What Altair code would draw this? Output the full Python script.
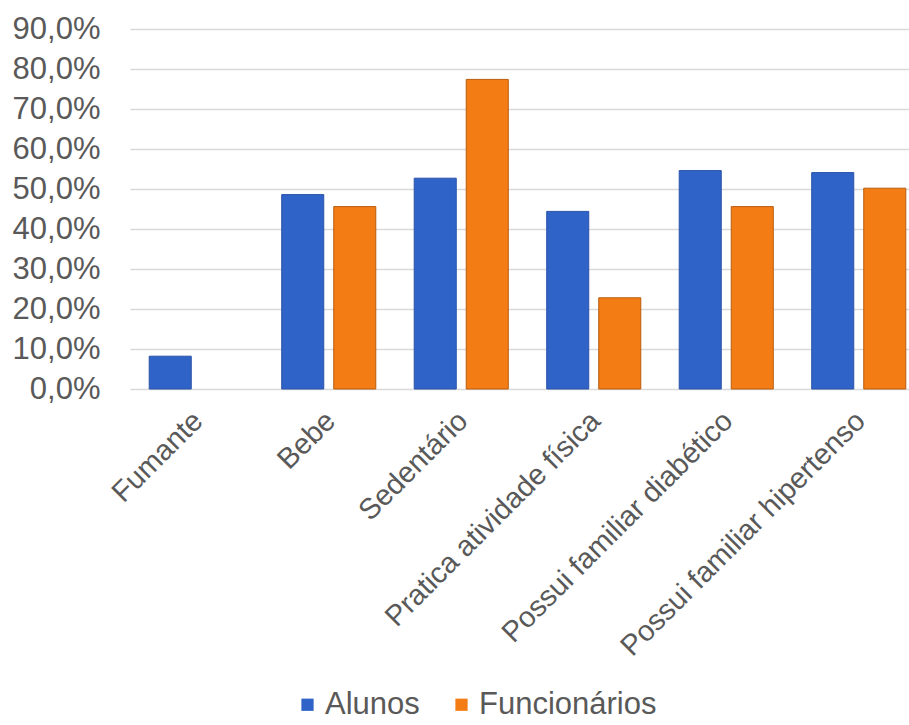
import altair as alt
import pandas as pd

categories = ["Fumante", "Bebe", "Sedentário", "Pratica atividade física",
              "Possui familiar diabético", "Possui familiar hipertenso"]
series = ["Alunos", "Funcionários"]
alunos = [0.082, 0.486, 0.527, 0.444, 0.546, 0.541]
funcionarios = [None, 0.456, 0.774, 0.228, 0.456, 0.502]

rows = []
for c, a, f in zip(categories, alunos, funcionarios):
    rows.append({"cat": c, "grupo": series[0], "valor": a})
    if f is not None:
        rows.append({"cat": c, "grupo": series[1], "valor": f})
df = pd.DataFrame(rows)

FONT = "Liberation Sans"
TXT = "#595959"

chart = alt.Chart(df).mark_bar(strokeWidth=1).encode(
    x=alt.X("cat:N", sort=categories, title=None,
            scale=alt.Scale(range=[0, 795], paddingInner=0.29, paddingOuter=0.145),
            axis=alt.Axis(labelAngle=-45, labelFontSize=29, labelFont=FONT,
                          labelColor=TXT, ticks=False, domain=False,
                          labelPadding=17, labelOffset=-8, labelLimit=500)),
    xOffset=alt.XOffset("grupo:N", sort=series,
                        scale=alt.Scale(paddingInner=0.192, paddingOuter=0)),
    y=alt.Y("valor:Q", title=None,
            scale=alt.Scale(domain=[0, 0.9], nice=False),
            axis=alt.Axis(values=[i / 10 for i in range(10)],
                          labelExpr="replace(format(datum.value, '.1%'), '.', ',')",
                          labelFontSize=31, labelFont=FONT, labelColor=TXT,
                          ticks=False, domain=False, labelPadding=30,
                          gridColor="#D9D9D9", gridWidth=1.5)),
    color=alt.Color("grupo:N", sort=series,
                    scale=alt.Scale(domain=series, range=["#2F63C8", "#F47C14"]),
                    legend=alt.Legend(title=None, orient="none", direction="horizontal",
                                      legendX=162, legendY=660, padding=0,
                                      symbolType="square", symbolSize=150,
                                      symbolStrokeWidth=0,
                                      labelFontSize=31, labelFont=FONT,
                                      labelColor=TXT, labelOffset=2,
                                      labelLimit=400, columnPadding=26)),
    stroke=alt.Stroke("grupo:N", sort=series,
                      scale=alt.Scale(domain=series, range=["#2A53A8", "#B85C0E"]),
                      legend=None),
).properties(
    width=779, height=360,
    autosize=alt.AutoSizeParams(type="none"),
    padding={"left": 130, "top": 29, "right": 0, "bottom": 336},
).configure_view(stroke=None)

chart.save("out.html", embed_options={"renderer": "svg", "actions": False})
